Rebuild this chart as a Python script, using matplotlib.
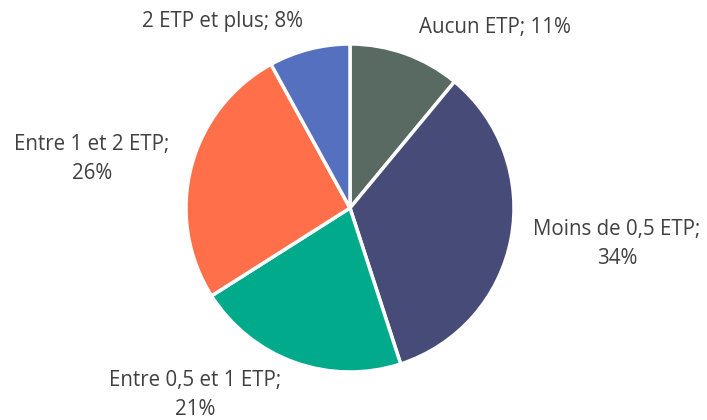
import matplotlib.pyplot as plt

labels = ["Aucun ETP", "Moins de 0,5 ETP", "Entre 0,5 et 1 ETP", "Entre 1 et 2 ETP", "2 ETP et plus"]
shares = [11, 34, 21, 26, 8]
colors = ["#586A62", "#474B78", "#00AA8A", "#FF6F4A", "#5470BE"]

# label text and where it sits (pixels from top-left)
label_texts = ["Aucun ETP; 11%", "Moins de 0,5 ETP;\n34%", "Entre 0,5 et 1 ETP;\n21%",
               "Entre 1 et 2 ETP;\n26%", "2 ETP et plus; 8%"]
label_pos = [(495, 27), (617, 244), (195, 395), (92, 159), (222, 21)]

W, H = 707, 420
fig = plt.figure(figsize=(W / 100, H / 100), dpi=100)
ax = fig.add_axes([0, 0, 1, 1])

ax.pie(shares, colors=colors, startangle=90, counterclock=False,
       center=(350, H - 208), radius=164,
       wedgeprops=dict(edgecolor="white", linewidth=2.5), frame=True)
ax.set_xlim(0, W)
ax.set_ylim(0, H)
ax.axis("off")

for txt, (x, y) in zip(label_texts, label_pos):
    ax.text(x, H - y, txt, ha="center", va="center", fontsize=14.8,
            family="Open Sans", color="#404040", linespacing=1.45)

fig.savefig("out.png", dpi=100)
